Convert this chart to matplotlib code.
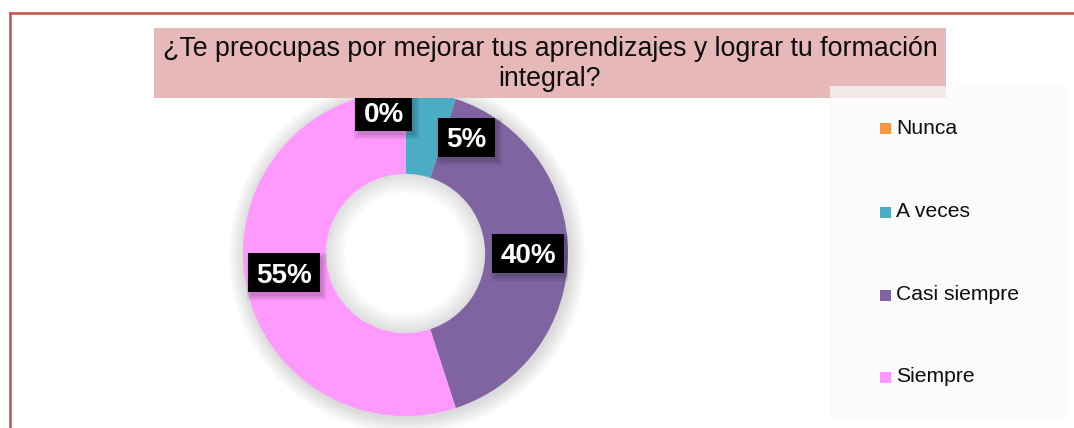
import matplotlib
matplotlib.use("Agg")
import matplotlib.pyplot as plt
from matplotlib.patches import Rectangle, Wedge
from matplotlib.lines import Line2D
from matplotlib.transforms import offset_copy
import numpy as np

plt.rcParams['font.family'] = ['Liberation Sans', 'DejaVu Sans']

title = "¿Te preocupas por mejorar tus aprendizajes y lograr tu formación\nintegral?"
categories = ["Nunca", "A veces", "Casi siempre", "Siempre"]
values = [0, 5, 40, 55]
labels = ["0%", "5%", "40%", "55%"]
colors = ["#F79646", "#4BACC6", "#8064A2", "#FF99FF"]

W, H = 1074, 428
fig = plt.figure(figsize=(W / 100, H / 100), dpi=100)
fig.patch.set_facecolor("white")

def fx(px):
    return px / W

def fy(py):
    return 1 - py / H

# red frame (left + top)
fig.add_artist(Line2D([fx(9.5), fx(9.5)], [fy(13), fy(430)], color="#C0504D", lw=1.8))
fig.add_artist(Line2D([fx(9.5), fx(1080)], [fy(13), fy(13)], color="#C0504D", lw=1.8))

# donut axes
cx, cy, R = 405.5, 253.5, 162.5
ax = fig.add_axes([fx(cx - R), fy(cy + R), 2 * R / W, 2 * R / H])
rin = 0.49

wedges, _ = ax.pie(values, colors=colors, startangle=90, counterclock=False,
                   radius=1.0, wedgeprops=dict(width=1 - rin, linewidth=0),
                   normalize=True)
for w in wedges:
    w.set_zorder(2)

# soft outer shadow (rings only outside the donut)
for k in range(1, 10):
    ax.add_patch(Wedge((0.01, -0.012), 1 + 0.011 * k, 0, 360, width=0.011 * k + 0.03,
                       color="#000000", alpha=0.014, lw=0, zorder=1, clip_on=False))
# inner shadow in the hole
for k in range(1, 12):
    ax.add_patch(Wedge((0, 0), rin, 0, 360, width=0.011 * k, color="#000000",
                       alpha=0.013, lw=0, zorder=3))

ax.set_xlim(-1, 1)
ax.set_ylim(-1, 1)
ax.set_aspect("equal")
ax.axis("off")

# data labels
fs = 20
fs_px = fs * 100 / 72
nudges = [(-0.135, 0.116), (0.257, -0.029), (0.0, 0.0), (0.0, 0.0)]
total = sum(values)
start = 90.0
texts = []
for i, v in enumerate(values):
    ang = start - 360 * v / total / 2
    start -= 360 * v / total
    r = 0.755
    x = r * np.cos(np.radians(ang)) + nudges[i][0]
    y = r * np.sin(np.radians(ang)) + nudges[i][1]
    tr = offset_copy(ax.transData, fig=fig, x=0, y=-0.358 * fs_px * 72 / 100, units="points")
    t = ax.text(x, y, labels[i], ha="center", va="baseline", fontsize=fs,
                fontweight="bold", color="white", transform=tr, zorder=6)
    texts.append((t, x, y))

fig.canvas.draw()
renderer = fig.canvas.get_renderer()
inv = ax.transData.inverted()
for t, x, y in texts:
    bb = t.get_window_extent(renderer)
    wpx = bb.width + 16
    hpx = 39
    X, Y = ax.transData.transform((x, y))
    # soft drop shadow
    for k, (dx, dy, grow) in enumerate([(3, -4, 4), (3, -4, 2), (3, -4, 0)]):
        (a0, b0) = inv.transform((X + dx - wpx / 2 - grow, Y + dy - hpx / 2 - grow))
        (a1, b1) = inv.transform((X + dx + wpx / 2 + grow, Y + dy + hpx / 2 + grow))
        ax.add_patch(Rectangle((a0, b0), a1 - a0, b1 - b0, fc="#000000",
                               ec="none", alpha=0.07, zorder=4))
    (x0, y0) = inv.transform((X - wpx / 2, Y - hpx / 2))
    (x1, y1) = inv.transform((X + wpx / 2, Y + hpx / 2))
    ax.add_patch(Rectangle((x0, y0), x1 - x0, y1 - y0, fc="black", ec="none", zorder=5))

# title box
fig.add_artist(Rectangle((fx(154), fy(98)), fx(946) - fx(154), fy(28) - fy(98),
                         transform=fig.transFigure, fc="#E6B9B8", ec="none", zorder=6))
fig.text(fx(550), fy(64), title, ha="center", va="center", fontsize=19.3,
         color="#0D0D0D", linespacing=1.22, zorder=7)

# legend box
fig.add_artist(Rectangle((fx(830), fy(418)), fx(1068) - fx(830), fy(86) - fy(418),
                         transform=fig.transFigure, fc="#FAFAFA", ec="none", alpha=0.75, zorder=8))
rows = [128, 212, 295, 377]
for c, col, ry in zip(categories, colors, rows):
    fig.add_artist(Rectangle((fx(880), fy(ry + 5.5)), 11 / W, 11 / H,
                             transform=fig.transFigure, fc=col, ec="none", zorder=9))
    fig.text(fx(896), fy(ry), c, ha="left", va="center", fontsize=15.2,
             color="#0D0D0D", zorder=9)

fig.savefig("out.png", dpi=100)
